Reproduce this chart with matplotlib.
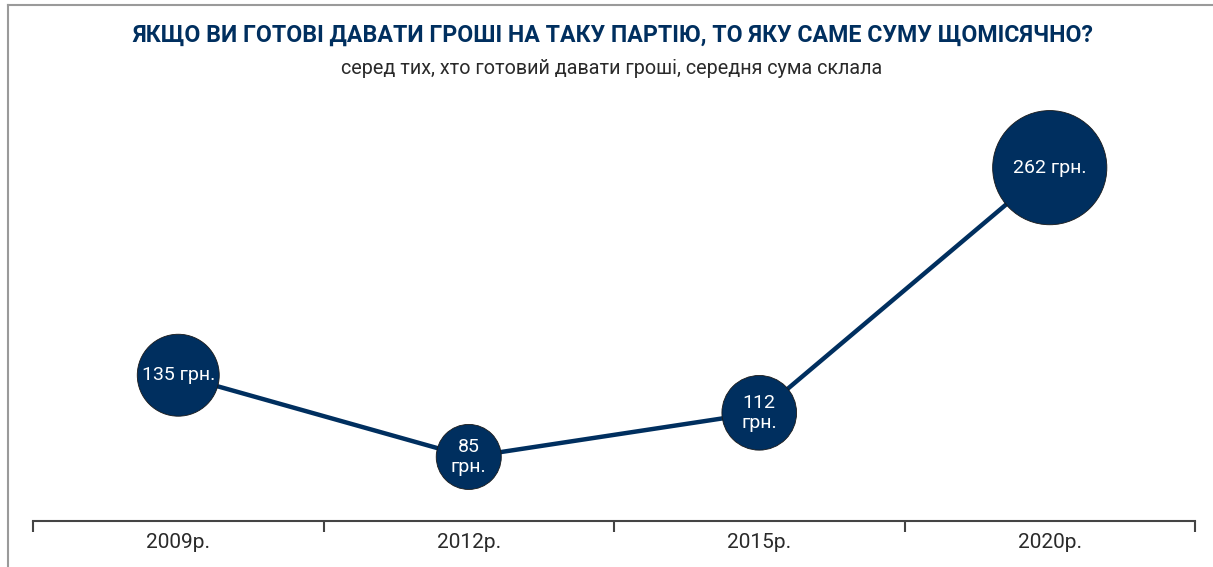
import matplotlib.pyplot as plt
from matplotlib.lines import Line2D

# Середня щомісячна сума внеску на партію
years = ["2009р.", "2012р.", "2015р.", "2020р."]
amounts = [135, 85, 112, 262]
point_labels = ["135 грн.", "85\nгрн.", "112\nгрн.", "262 грн."]

navy = "#002f5f"
plt.rcParams["font.family"] = ["Roboto", "DejaVu Sans"]

fig = plt.figure(figsize=(12.13, 5.67), dpi=100)
ax = fig.add_axes([33 / 1213, 46 / 567, 1162 / 1213, 421 / 567])

x = list(range(len(years)))
ax.plot(x, amounts, color=navy, linewidth=3.2, zorder=1)
# площа кола пропорційна сумі
ax.scatter(x, amounts, s=[25.8 * v for v in amounts], color=navy,
           edgecolor="#1a1a1a", linewidth=0.6, zorder=2)
for xi, v, lab in zip(x, amounts, point_labels):
    ax.text(xi, v, lab, color="white", fontsize=14, ha="center", va="center",
            linespacing=1.1, zorder=3)

ax.set_xlim(-0.5, len(years) - 0.5)
ax.set_ylim(45.8, 303.4)
for side in ["top", "right", "left"]:
    ax.spines[side].set_visible(False)
ax.spines["bottom"].set_color("#444444")
ax.spines["bottom"].set_linewidth(1.5)
ax.set_yticks([])

# риски на межах категорій, підписи по центру
ax.set_xticks([i - 0.5 for i in range(len(years) + 1)], minor=False)
ax.set_xticklabels([])
ax.tick_params(axis="x", which="major", length=8, width=1.5, color="#444444",
               direction="out")
ax.set_xticks(x, minor=True)
ax.set_xticklabels(years, minor=True)
ax.tick_params(axis="x", which="minor", length=0, labelsize=15,
               labelcolor="#2a2a2a", pad=9)

fig.text(0.505, 1 - 35 / 567, "ЯКЩО ВИ ГОТОВІ ДАВАТИ ГРОШІ НА ТАКУ ПАРТІЮ, ТО ЯКУ САМЕ СУМУ ЩОМІСЯЧНО?",
         ha="center", va="center", fontsize=16.7, fontweight="bold", color=navy)
fig.text(0.504, 1 - 68 / 567, "серед тих, хто готовий давати гроші, середня сума склала",
         ha="center", va="center", fontsize=14.2, color="#2a2a2a")

# рамка зліва та зверху
fig.add_artist(Line2D([8 / 1213, 8 / 1213], [0, 1 - 4.5 / 567], transform=fig.transFigure,
                      color="#9a9a9a", linewidth=1.5))
fig.add_artist(Line2D([8 / 1213, 1], [1 - 4.5 / 567, 1 - 4.5 / 567], transform=fig.transFigure,
                      color="#9a9a9a", linewidth=1.5))

fig.savefig("out.png", dpi=100)
